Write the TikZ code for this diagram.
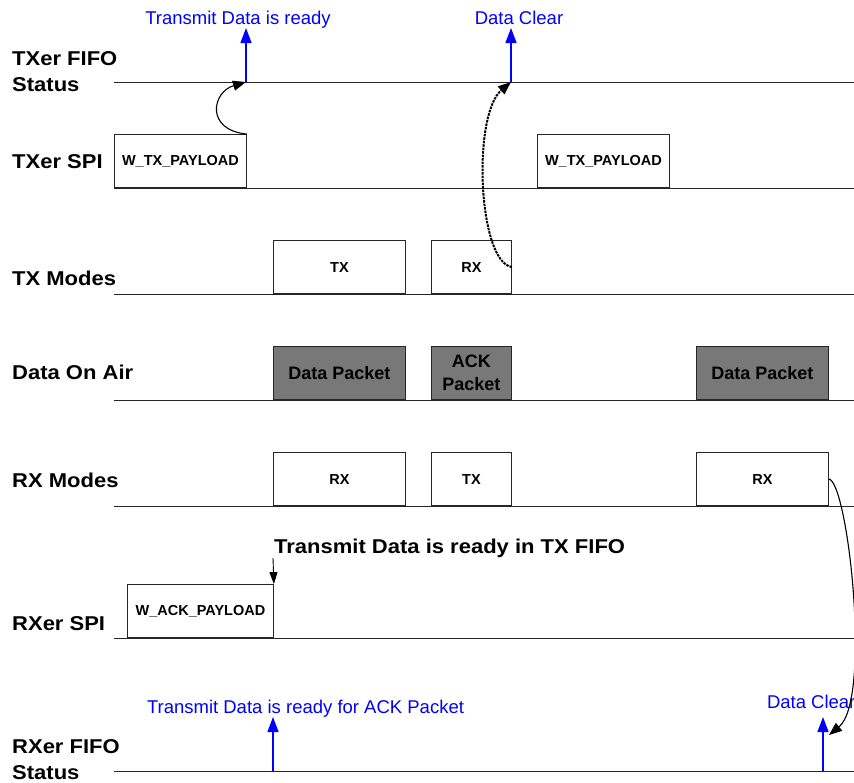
\documentclass[tikz,border=0pt]{standalone}
\usepackage{fontspec}
\setmainfont{Liberation Sans}
\newfontfamily\widefont{Liberation Sans}[FakeStretch=1.1]
\usetikzlibrary{arrows.meta}

\begin{document}
\begin{tikzpicture}[x=1pt,y=-1pt]
        \tikzstyle{lane}=[anchor=base west,inner sep=0pt,align=left,font=\widefont\bfseries\fontsize{20}{26}\selectfont]
        \tikzstyle{slot}=[draw=black!85,line width=0.9pt,anchor=south west,inner sep=0pt,minimum height=53pt,align=center,font=\bfseries\fontsize{18}{23}\selectfont]
        \tikzstyle{cmd}=[slot,font=\bfseries\fontsize{14.5}{17}\selectfont]
        \tikzstyle{mode}=[slot,font=\bfseries\fontsize{14.5}{17}\selectfont]
        \tikzstyle{air}=[slot,fill=black!53]
        \tikzstyle{note}=[text=blue,anchor=base,inner sep=0pt,outer sep=0pt,text depth=4pt,font=\fontsize{18.5}{22}\selectfont]
        \tikzstyle{flag}=[blue,line width=1.4pt,-{Triangle[length=15pt,width=11pt]}]
        \tikzstyle{hop}=[black,line width=1.1pt,-{Triangle[length=13pt,width=10pt]}]
  \useasboundingbox (0,0) rectangle (854,782);
  \foreach \y in {82,188,294,400,506,638,771}
    \draw[black!85,line width=0.9pt] (114,\y) -- (854,\y);
  \node[lane] (R_1) at (12,91)  {TXer FIFO\\Status};
  \node[lane] (R_2) at (12,168) {TXer SPI};
  \node[lane] (R_3) at (12,285) {TX Modes};
  \node[lane] (R_4) at (12,379) {Data On Air};
  \node[lane] (R_5) at (12,487) {RX Modes};
  \node[lane] (R_6) at (12,630) {RXer SPI};
  \node[lane] (R_7) at (12,779) {RXer FIFO\\Status};
  \node[cmd,minimum width=132pt] (S_1) at (114,188) {W\_TX\_PAYLOAD};
  \node[cmd,minimum width=132pt] (S_2) at (537,188) {W\_TX\_PAYLOAD};
  \node[mode,minimum width=132pt] (T_1) at (273,294) {TX};
  \node[mode,minimum width=80pt]  (T_2) at (431,294) {RX};
  \node[air,minimum width=132pt]  (A_1) at (273,400) {Data Packet};
  \node[air,minimum width=80pt]   (A_2) at (431,400) {ACK\\Packet};
  \node[air,minimum width=132pt]  (A_3) at (696,400) {Data Packet};
  \node[mode,minimum width=132pt] (M_1) at (273,506) {RX};
  \node[mode,minimum width=80pt]  (M_2) at (431,506) {TX};
  \node[mode,minimum width=132pt] (M_3) at (696,506) {RX};
  \node[cmd,minimum width=146pt]  (S_3) at (127,638) {W\_ACK\_PAYLOAD};
  \node[note] (N_1) at (238,24)  {Transmit Data is ready};
  \node[note] (N_2) at (519,24)  {Data Clear};
  \node[note] (N_3) at (305.5,713) {Transmit Data is ready for ACK Packet};
  \node[note,anchor=base west] (N_4) at (767,708) {Data Clear};
  \node[lane] (N_5) at (274,553) {Transmit Data is ready in TX FIFO};
  \coordinate (F_1) at (246,82);
  \coordinate (F_2) at (511,82);
  \coordinate (F_3) at (273,771);
  \coordinate (F_4) at (823,771);
  \coordinate (D_1) at (829,735);
  \coordinate (D_2) at (273,558);
  \draw[flag] (F_1) -- (F_1 |- N_1.south);
  \draw[flag] (F_2) -- (F_2 |- N_2.south);
  \draw[flag] (F_3) -- (F_3 |- N_3.south);
  \draw[flag,shorten >=5pt] (F_4) -- (F_4 |- N_4.south);
  \draw[hop] (S_1.north east) .. controls (205,130) and (212,92) .. (F_1);
  \draw[hop,line width=2pt,dash pattern=on 2.5pt off 1pt] (T_2.east) .. controls (478,262) and (472,115) .. (F_2);
  \draw[hop] (M_3.east) .. controls (848,482) and (872,700) .. (D_1);
  \draw[line width=0.9pt,-{Triangle[length=12pt,width=8pt]}] (D_2) -- (S_3.north east);
    \end{tikzpicture}
\end{document}
